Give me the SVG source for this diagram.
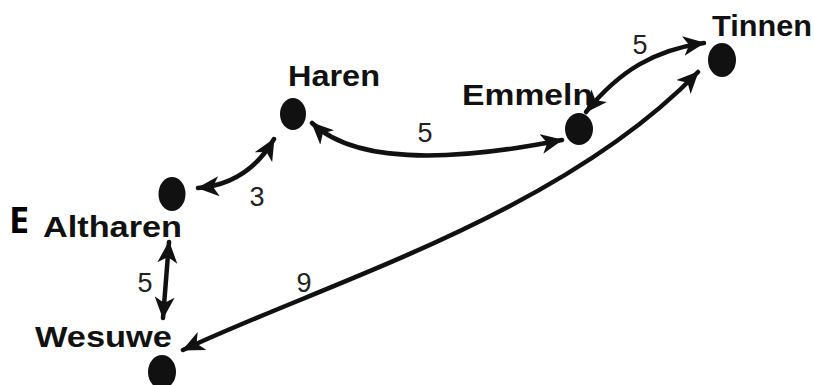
<svg xmlns="http://www.w3.org/2000/svg" width="814" height="385" viewBox="0 0 814 385">
<defs>
<marker id="ah" markerUnits="userSpaceOnUse" markerWidth="24" markerHeight="20" refX="21" refY="10" orient="auto-start-reverse">
<path d="M0,0 L22,10 L0,20 L6,10 z" fill="#111"/>
</marker>
<style>
.node{fill:#111}
.lbl{font-family:"Liberation Sans",Arial,sans-serif;font-weight:bold;font-size:30px;fill:#111}
.num{font-family:"Liberation Sans",Arial,sans-serif;font-size:27px;fill:#222}
.edge{fill:none;stroke:#111;stroke-width:4.5;stroke-linecap:round;marker-start:url(#ah);marker-end:url(#ah)}
</style>
</defs>
<rect width="814" height="385" fill="#fff"/>
<g id="connectors">
<path class="edge" d="M198 188 Q248 184 274 139"/>
<path class="edge" d="M312 123 C355 164 450 162 562 140"/>
<path class="edge" d="M586 112 C620 70 655 50 704 43"/>
<path class="edge" d="M183 350 C320 285 560 215 698 72"/>
<path class="edge" d="M169 242 L163 318"/>
<text class="num" x="257" y="206" text-anchor="middle">3</text>
<text class="num" x="425" y="142" text-anchor="middle">5</text>
<text class="num" x="640" y="54" text-anchor="middle">5</text>
<text class="num" x="304" y="292" text-anchor="middle">9</text>
<text class="num" x="145" y="292" text-anchor="middle">5</text>
</g>
<g id="haren">
<ellipse class="node" cx="293" cy="114" rx="13" ry="16"/>
<text class="lbl" x="288" y="86" textLength="92" lengthAdjust="spacingAndGlyphs">Haren</text>
</g>
<g id="emmeln">
<ellipse class="node" cx="579" cy="129" rx="14" ry="16"/>
<text class="lbl" x="462" y="105" textLength="131" lengthAdjust="spacingAndGlyphs">Emmeln</text>
</g>
<g id="tinnen">
<ellipse class="node" cx="722" cy="60" rx="14" ry="17"/>
<text class="lbl" x="712" y="36" textLength="100" lengthAdjust="spacingAndGlyphs">Tinnen</text>
</g>
<g id="altharen">
<ellipse class="node" cx="172" cy="194" rx="13.5" ry="17"/>
<text class="lbl" x="43" y="237" textLength="139" lengthAdjust="spacingAndGlyphs">Altharen</text>
</g>
<g id="wesuwe">
<ellipse class="node" cx="162" cy="372" rx="14" ry="17"/>
<text class="lbl" x="35" y="347" textLength="137" lengthAdjust="spacingAndGlyphs">Wesuwe</text>
</g>
<text x="9" y="233" font-family="'Open Sans','Liberation Sans',sans-serif" font-weight="bold" font-size="36" fill="#000">E</text>
</svg>
